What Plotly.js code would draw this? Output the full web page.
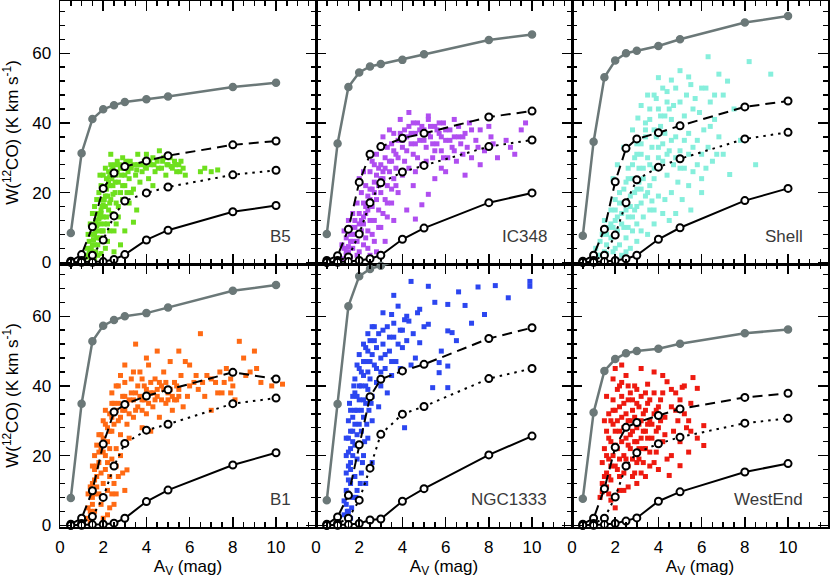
<!DOCTYPE html>
<html><head><meta charset="utf-8">
<script src="https://cdn.plot.ly/plotly-3.0.1.min.js"></script>
<style>html,body{margin:0;padding:0;background:#fff}</style>
</head><body><div id="chart" style="width:830px;height:581px"></div>
<script>
// ---------- data ----------
const PANEL_NAMES = ["B5", "IC348", "Shell", "B1", "NGC1333", "WestEnd"];
const AV_MODEL = [0.5, 1, 1.5, 2, 2.5, 3, 4, 5, 8, 10];
const X_TICKS = [0, 2, 4, 6, 8, 10];
const Y_TICKS = [0, 20, 40, 60];

// model curves (gray solid, black dashed, black dotted, black solid)
const B5_gray   = [8.4, 31.3, 41.1, 43.9, 45.1, 46.0, 46.8, 47.6, 50.3, 51.5];
const B5_dash   = [0.3, 2.2, 10.2, 21.2, 25.6, 27.5, 29.1, 30.6, 33.7, 34.8];
const B5_dot    = [0, 0.5, 2.0, 6.4, 13.3, 17.6, 19.9, 21.6, 25.1, 26.4];
const B5_solid  = [0, 0, 0, 0.2, 0.8, 2.2, 6.4, 9.2, 14.5, 16.3];

const IC348_gray  = [8.1, 34.1, 50.3, 54.5, 56.2, 56.9, 58.1, 59.7, 63.8, 65.4];
const IC348_dash  = [0.5, 1.9, 9.5, 23.0, 31.0, 33.2, 35.6, 37.0, 41.7, 43.4];
const IC348_dot   = [0, 0.5, 1.5, 8.1, 17.1, 22.8, 25.9, 27.8, 33.2, 35.1];
const IC348_solid = [0, 0, 0.2, 0.5, 1.0, 2.0, 6.6, 9.8, 17.1, 19.9];

const Shell_gray  = [7.6, 34.6, 53.1, 57.9, 60.0, 60.7, 62.1, 64.0, 68.8, 70.7];
const Shell_dash  = [0.3, 2.0, 9.5, 23.1, 32.7, 35.4, 37.2, 39.2, 44.6, 46.3];
const Shell_dot   = [0, 0.5, 2.0, 7.8, 17.1, 23.7, 27.3, 29.7, 35.4, 37.3];
const Shell_solid = [0, 0, 0.2, 0.5, 1.0, 2.0, 6.6, 9.9, 17.7, 21.2];

const B1_gray  = [7.8, 34.9, 52.8, 57.3, 58.9, 60.0, 60.9, 62.5, 67.3, 69.0];
const B1_dash  = [0.3, 2.0, 9.9, 23.3, 32.5, 34.7, 37.1, 38.9, 43.9, 42.0];
const B1_dot   = [0, 0.5, 2.5, 8.0, 17.0, 23.5, 27.3, 29.0, 34.9, 36.5];
const B1_solid = [0, 0, 0.2, 0.3, 0.6, 2.0, 6.8, 10.1, 17.3, 20.8];

const NGC1333_gray  = [7.2, 34.8, 62.9, 71.5, 73.6, 74.5, 76.5, 78.0, 82.0, 84.0];
const NGC1333_dash  = [0.3, 2.4, 8.6, 23.1, 36.9, 41.9, 44.3, 46.2, 53.6, 56.7];
const NGC1333_dot   = [0, 0.5, 2.0, 7.2, 16.4, 26.1, 31.9, 34.1, 42.1, 45.0];
const NGC1333_solid = [0, 0, 0.2, 0.5, 1.5, 1.8, 6.9, 10.5, 20.2, 25.6];

const WestEnd_gray  = [7.6, 32.4, 44.3, 47.7, 49.4, 50.0, 50.7, 52.1, 55.1, 56.2];
const WestEnd_dash  = [0.3, 2.0, 10.5, 22.4, 28.1, 29.5, 31.5, 33.4, 36.7, 37.9];
const WestEnd_dot   = [0, 0.5, 2.0, 8.1, 17.0, 20.8, 23.4, 25.3, 29.3, 30.7];
const WestEnd_solid = [0, 0, 0.2, 0.5, 1.2, 2.1, 6.9, 9.6, 15.3, 17.7];

// observed points [Av, W(12CO)]
const B5_pts = [[1.1,1],[1.2,2],[1.3,1.5],[1.25,4],[1.4,3],[1.5,2],[1.35,6],[1.45,8],[1.6,5],[1.55,10],[1.7,7],[1.65,12],[1.8,9],[1.5,14],[1.6,16],[1.75,14],[1.85,11],[1.9,15],[1.7,18],[1.8,20],[2.0,13],[1.95,18],[2.1,16],[1.9,22],[2.05,21],[2.2,19],[2.15,24],[2.3,22],[2.0,25],[2.25,26],[2.4,24],[2.35,28],[2.5,26],[2.1,27],[2.45,22],[2.6,25],[2.3,17],[2.55,20],[2.7,23],[2.2,11],[2.4,14],[2.6,17],[2.8,20],[2.5,9],[2.7,13],[2.9,18],[3.0,22],[2.8,27],[3.0,25],[3.1,28],[2.65,29],[2.9,30],[3.2,24],[3.3,27],[3.4,21],[3.5,25],[3.6,28],[3.7,23],[3.8,26],[3.9,29],[4.0,27],[4.1,24],[4.2,28],[4.3,30],[4.4,26],[4.5,29],[4.6,32],[4.7,27],[4.8,30],[4.9,25],[5.0,28],[5.1,30],[5.2,27],[5.3,29],[5.4,26],[5.5,28],[5.6,29],[5.8,25],[5.7,27],[6.5,26],[6.7,27],[7.0,26],[7.3,26.5],[3.4,11.5],[3.55,15],[3.2,17],[3.0,9],[2.8,5],[2.5,3],[1.9,2.5],[2.2,6],[1.6,1],[1.4,11],[1.3,8],[2.0,9],[2.1,4],[3.3,20],[4.0,31],[3.6,31],[4.3,22],[2.35,31],[1.85,25],
  [1.45,4],[1.55,6.5],[1.65,9],[1.75,11],[1.85,13],[1.95,16],[2.05,18],[2.15,21],[2.25,23],[2.35,25],[2.45,27],[1.6,8],[1.7,10.5],[1.8,12.5],[1.9,14],[2.0,16.5],[2.1,19],[2.2,22],[2.3,24.5],[2.4,26.5],[2.55,28],[1.5,5],[1.65,3],[1.75,5],[1.85,7],[1.95,9],[2.05,11],[2.15,13],[2.25,15],[2.35,18],[2.45,19.5],[2.55,23],[2.65,26],[2.75,28],[2.85,25],[2.95,27],[3.05,29],[3.15,26],[3.25,29],[3.45,28],[3.55,26.5],[3.75,28],[3.95,27.5],[4.15,29],[4.35,28],[4.55,27],[4.75,29],[4.95,28],[5.15,27.5],[5.35,28],[5.55,26],[2.0,6],[2.3,9],[2.6,11],[2.7,16],[2.9,22],[3.1,20],[1.35,2.5],[1.55,1.5],[1.75,2]];
const IC348_pts = [[1.0,0.5],[1.2,1],[1.4,2],[1.3,4],[1.5,3],[1.6,6],[1.4,7],[1.7,4],[1.8,8],[1.6,10],[1.9,6],[2.0,3],[2.1,9],[1.8,12],[2.0,14],[2.2,11],[2.3,7],[2.4,4],[2.5,2],[2.6,8],[2.3,14],[2.5,12],[2.2,17],[2.4,19],[2.6,16],[2.7,12],[2.8,18],[2.5,21],[2.7,23],[2.9,15],[3.0,20],[3.1,24],[2.9,27],[3.2,18],[3.3,22],[3.0,28],[3.4,26],[3.2,30],[3.5,29],[3.6,24],[3.7,31],[3.3,33],[3.8,35],[3.6,37],[4.0,33],[4.1,29],[4.2,36],[4.3,39],[4.4,34],[4.5,31],[4.6,37],[4.7,40],[4.8,35],[4.9,28],[5.0,38],[5.1,33],[5.2,41],[5.3,36],[5.4,30],[5.5,39],[5.6,34],[5.7,37],[5.8,32],[5.9,40],[6.0,35],[6.1,30],[6.2,38],[6.3,33],[6.4,36],[6.5,29],[6.6,39],[6.7,34],[6.8,31],[6.9,37],[7.0,33],[7.2,30],[7.4,35],[7.6,28],[7.8,32],[8.1,36],[8.4,30],[8.8,35],[9.2,31],[9.5,38],[9.7,40],[4.3,43],[5.2,42],[3.9,41],[4.9,16.5],[5.2,19.5],[4.5,22],[4.0,25],[3.8,20],[3.5,17],[5.5,24],[6.0,26],[3.0,10],[3.3,13],[3.6,12],[4.2,15],[2.0,24],[2.2,26],[2.6,29],[2.8,31],[3.1,36],[3.4,38],[2.1,20],[1.9,17],[1.7,14],[1.5,12],[1.3,9],[1.2,5],[2.8,3],[3.2,6],[4.6,26],[5.8,27],[7.1,40],[6.4,41],[7.6,38],[8.0,39],[6.9,25],[4.6,12.4],
  [1.5,4.5],[1.7,6],[1.9,8],[2.1,12],[2.3,16],[2.5,18],[2.7,20],[2.9,22],[3.1,26],[1.6,8],[1.8,10],[2.0,11],[2.2,13],[2.4,15],[2.6,21],[2.8,25],[3.0,24],[3.2,27],[3.4,29],[3.6,32],[3.8,30],[4.0,35],[4.2,32],[4.4,37],[4.6,34],[4.8,38],[5.0,35],[5.2,37],[5.4,34],[5.6,38],[5.8,36],[6.0,38],[6.2,35],[6.4,32],[6.6,36],[4.1,38],[4.5,40],[4.9,39],[5.3,39],[5.7,40],[3.5,34],[3.9,37],[3.7,27],[4.3,27],[4.7,30],[5.1,29],[5.5,32],[5.9,30],[1.4,3],[1.6,1.5],[1.9,2],[2.2,5],[2.4,9],[2.7,6],[2.9,10],[3.1,14],[3.3,17],[3.5,21],[3.7,22],[2.3,22],[2.5,26],[2.7,28],[6.8,36],[7.2,38],[7.5,33],[8.2,34],[9.0,33]];
const Shell_pts = [[1.0,1],[1.2,2],[1.1,4],[1.3,6],[1.5,3],[1.4,8],[1.6,5],[1.7,10],[1.5,12],[1.8,7],[1.9,3],[2.0,12],[1.8,15],[2.1,9],[2.2,5],[2.3,14],[2.0,18],[2.4,10],[2.5,7],[2.2,20],[2.4,17],[2.6,13],[2.7,4],[2.8,9],[2.5,23],[2.7,19],[2.9,15],[3.0,11],[2.6,27],[2.8,24],[3.0,21],[3.2,17],[3.3,13],[3.5,8],[2.9,30],[3.1,27],[3.3,24],[3.5,20],[3.6,15],[3.8,11],[3.0,34],[3.2,31],[3.4,36],[3.6,28],[3.8,24],[4.0,19],[4.2,14],[3.4,40],[3.6,44],[3.8,38],[4.0,33],[4.2,29],[4.4,25],[4.6,20],[3.5,48],[3.9,47],[4.1,42],[4.3,37],[4.5,32],[4.7,28],[4.9,23],[5.1,18],[4.2,50],[4.4,46],[4.6,41],[4.8,36],[5.0,32],[5.2,27],[5.4,22],[4.8,50],[5.0,46],[5.2,42],[5.4,37],[5.6,33],[5.8,28],[6.0,24],[5.5,51],[5.7,47],[5.9,43],[6.1,38],[6.3,33],[6.5,29],[6.2,50],[6.4,46],[6.6,41],[6.8,36],[7.0,31],[7.3,25.2],[6.3,59],[7.0,48],[7.5,44],[8.2,57.6],[9.2,54],[8.5,28],[7.8,35],[5.0,55],[3.2,45],[2.8,38],[2.4,33],[2.1,28],[1.9,24],[6.0,20],[5.5,15],[4.5,12],[3.0,6],[2.3,2],[4.0,53],[7.2,52],[6.8,54],[4.6,52.3],[5.4,53.2],[3.05,41.4],[3.7,17.6],
  [1.6,8],[1.8,11],[2.0,15],[2.2,17],[2.4,21],[2.6,24],[2.8,28],[3.0,31],[3.2,34],[3.4,38],[3.6,41],[1.9,10],[2.1,13],[2.3,11],[2.5,15],[2.7,16],[2.9,20],[3.1,23],[3.3,27],[3.5,30],[3.7,33],[3.9,36],[4.1,39],[4.3,42],[4.5,44],[2.6,10],[2.8,13],[3.0,16],[3.2,21],[3.4,19],[3.6,22],[3.8,27],[4.0,30],[4.2,34],[4.4,31],[4.6,35],[4.8,30],[5.0,27],[5.2,35],[5.4,31],[5.6,26],[5.8,35],[6.0,31],[6.2,27],[6.4,39],[6.7,31],[4.0,44],[3.8,48],[4.4,49],[4.7,45],[5.3,48],[5.6,44],[6.0,50],[6.6,48],[1.3,2],[1.6,2.5],[2.0,4],[2.5,3],[3.2,9],[3.8,15],[4.3,18],[4.8,14]];
const B1_pts = [[1.2,2],[1.3,5],[1.4,1],[1.5,8],[1.4,11],[1.6,4],[1.7,14],[1.5,17],[1.8,9],[1.6,20],[1.9,6],[2.0,12],[1.8,18],[1.7,23],[2.1,16],[1.9,26],[2.2,10],[2.0,21],[2.3,14],[2.1,29],[2.4,19],[2.2,24],[2.5,12],[2.6,17],[2.3,32],[2.4,27],[2.5,35],[2.6,22],[2.7,30],[2.8,26],[2.9,37],[3.0,33],[2.7,40],[3.1,29],[3.2,36],[3.3,42],[3.4,31],[3.5,38],[3.6,34],[3.7,44],[3.8,36],[3.9,40],[4.0,32],[4.1,46],[4.2,38],[4.3,34],[4.4,42],[4.5,37],[4.6,31],[4.7,40],[4.8,44],[4.9,35],[5.0,38],[5.1,47],[5.2,33],[5.3,41],[5.4,36],[5.5,39],[5.6,43],[5.7,34],[5.9,37],[6.2,41],[6.5,55],[6.4,39],[6.8,43],[7.0,33],[7.2,41],[7.5,38],[7.7,45],[8.0,40],[8.3,52.8],[8.5,48],[8.8,44],[9.0,50],[9.3,41],[9.8,40],[10.3,40.5],[3.5,52],[4.0,48],[4.5,50],[5.5,50],[6.0,46],[3.0,46],[2.8,20],[2.5,6],[2.2,3],[2.9,15],[3.0,10],[2.6,9],[2.0,2],[1.6,13],[1.3,9],[2.4,38],[3.2,25],[3.8,28],[4.2,27],[5.8,47],[6.7,37],[7.4,44],[7.9,42],[8.1,36],[3.1,15.9],
  [1.4,4],[1.5,12],[1.6,9],[1.7,17],[1.8,21],[1.9,15],[2.0,25],[2.1,20],[2.2,28],[2.3,22],[2.4,31],[2.5,29],[1.5,6],[1.6,16],[1.7,11],[1.8,26],[1.9,22],[2.0,30],[2.1,33],[2.2,18],[2.3,27],[2.4,35],[2.6,33],[2.7,35],[2.8,31],[2.9,33],[3.0,37],[3.1,35],[3.2,32],[3.3,38],[3.4,36],[3.5,33],[3.6,40],[3.7,37],[3.8,33],[3.9,36],[4.0,39],[4.1,35],[4.2,41],[4.3,38],[4.4,36],[4.5,39],[4.6,41],[4.7,36],[4.8,39],[4.9,41],[5.0,36],[5.1,39],[5.2,37],[5.3,36],[5.4,40],[5.5,37],[2.6,40],[2.8,43],[3.0,41],[3.4,44],[3.8,42],[2.4,9],[2.7,14],[2.3,5],[6.0,40],[6.3,43],[6.6,41],[7.0,42],[7.3,38],[7.6,41],[7.9,38],[8.6,43],[9.1,45]];
const NGC1333_pts = [[1.3,3],[1.4,6],[1.5,4],[1.5,9],[1.6,12],[1.4,15],[1.7,8],[1.6,18],[1.8,14],[1.5,21],[1.7,24],[1.9,19],[1.6,27],[1.8,29],[2.0,23],[1.9,33],[2.1,27],[1.7,31],[2.0,36],[2.2,31],[1.8,38],[2.1,40],[2.3,35],[2.2,43],[2.4,39],[2.0,45],[2.3,47],[2.5,42],[2.6,37],[2.4,50],[2.7,46],[2.8,41],[2.5,53],[2.8,51],[3.0,48],[2.9,55],[3.1,52],[3.2,45],[3.3,57],[3.4,50],[3.5,60.5],[3.6,54],[3.8,62.9],[3.7,47],[3.9,56],[4.0,51],[4.1,59],[4.2,53],[4.3,58.6],[4.4,70],[4.5,55],[4.7,61],[4.8,52.4],[5.0,57],[5.2,57.7],[5.2,68.6],[5.5,64],[5.7,46.7],[5.7,43.8],[5.4,39.5],[6.1,39.5],[6.1,45.7],[6.1,55.8],[6.3,55.3],[6.1,63.4],[6.6,67],[6.9,63.1],[7.5,68.4],[7.8,60.5],[8.3,68.8],[8.9,65.3],[9.9,68.6],[9.9,70],[4.1,28],[2.6,30],[2.2,20],[2.4,25],[2.9,34],[3.0,40],[1.9,10],[2.1,15],[1.6,2],[2.3,12],[3.3,38],[3.5,43],[2.7,57],[3.1,61],[3.6,66],[4.6,48],[5.8,50],[6.5,53],[7.2,58],[1.5,30],[1.4,25],[2.6,18],[4.8,62],
  [1.4,10],[1.5,13],[1.6,16],[1.7,20],[1.8,23],[1.9,26],[2.0,29],[2.1,33],[2.2,36],[2.3,40],[2.4,44],[2.5,47],[1.5,17],[1.6,22],[1.7,27],[1.8,33],[1.9,37],[2.0,40],[2.1,44],[2.2,47],[2.3,51],[2.6,49],[1.4,20],[1.5,25],[1.6,33],[1.7,37],[1.8,42],[1.9,46],[2.0,49],[2.2,52],[2.4,55],[2.6,57],[2.8,45],[3.0,44],[3.2,49],[3.4,54],[3.6,58],[3.8,52],[4.0,56],[4.2,60],[1.3,7],[1.45,4],[1.65,5],[1.85,8],[2.05,12],[2.15,18],[2.25,24],[2.35,29],[2.45,33],[2.55,35],[1.55,35],[1.75,40],[2.7,53],[3.1,56],[3.5,47],[3.9,45],[4.4,46]];
const WestEnd_pts = [[1.3,8],[1.4,12],[1.4,18],[1.5,10],[1.5,22],[1.6,15],[1.6,27],[1.7,19],[1.7,32],[1.8,24],[1.8,13],[1.9,29],[1.9,36],[2.0,17],[2.0,33],[2.1,22],[2.1,39],[2.2,27],[2.2,14],[2.3,31],[2.3,41],[2.4,20],[2.4,35],[2.5,25],[2.5,43],[2.6,30],[2.6,17],[2.7,38],[2.7,22],[2.8,33],[2.8,27],[2.9,40],[2.9,15],[3.0,35],[3.0,24],[3.1,29],[3.1,19],[3.2,37],[3.3,32],[3.3,22],[3.4,27],[3.5,40.5],[3.5,35],[3.6,30],[3.6,17],[3.7,25],[3.8,38],[3.9,33],[3.9,21],[4.0,28],[4.1,36],[4.2,24],[4.3,31],[4.4,41.2],[4.4,19],[4.5,14.3],[4.6,34],[4.7,27],[4.8,38],[4.9,30],[5.0,17.1],[5.0,24],[5.1,39.6],[5.2,32],[5.3,28],[5.4,21],[5.6,42.4],[5.5,35],[5.8,39.3],[6.1,28.6],[6.1,22.9],[1.4,9.6],[1.8,7.2],[2.0,5],[2.4,10],[3.0,12],[3.4,14],[2.0,45],[2.3,46],[1.6,37],[1.5,30],[1.9,42],[3.8,44],[4.2,43],[3.2,45],[2.6,11],
  [1.5,14],[1.6,20],[1.7,25],[1.8,30],[1.9,33],[2.0,27],[2.1,30],[2.2,34],[2.3,37],[2.4,28],[2.5,32],[2.6,36],[2.7,30],[2.8,36],[2.9,31],[3.0,28],[3.1,34],[3.2,30],[3.3,27],[3.4,33],[3.5,29],[3.6,36],[1.6,11],[1.7,14],[1.8,17],[1.9,20],[2.0,23],[2.1,16],[2.2,19],[2.3,24],[2.4,15],[2.5,19],[2.6,23],[2.7,26],[2.8,19],[2.9,24],[3.0,18],[3.1,22],[3.2,25],[3.3,18],[3.4,22],[3.5,25],[3.6,21],[3.7,29],[3.8,32],[3.9,27],[4.0,34],[4.1,30],[4.2,38],[4.3,26],[4.6,39],[4.8,33],[5.0,36],[5.2,40],[5.4,30],[2.2,40],[2.6,40],[3.0,39],[3.4,38],[1.7,9],[2.2,10],[2.8,14],[3.2,15],[3.8,18],[4.0,16],[4.6,20],[5.5,27],[5.8,25]];

const POINT_COLORS = ["#6ee01e", "#b04ef0", "#86efdc", "#ff6a14", "#2c46f0", "#ee1a10"];

// ---------- build ----------
const panels = [
  {pts: B5_pts, curves: [B5_gray, B5_dash, B5_dot, B5_solid]},
  {pts: IC348_pts, curves: [IC348_gray, IC348_dash, IC348_dot, IC348_solid]},
  {pts: Shell_pts, curves: [Shell_gray, Shell_dash, Shell_dot, Shell_solid]},
  {pts: B1_pts, curves: [B1_gray, B1_dash, B1_dot, B1_solid]},
  {pts: NGC1333_pts, curves: [NGC1333_gray, NGC1333_dash, NGC1333_dot, NGC1333_solid]},
  {pts: WestEnd_pts, curves: [WestEnd_gray, WestEnd_dash, WestEnd_dot, WestEnd_solid]}
];

const GRAY = "#6b7878";
const curveStyles = [
  {line: {color: GRAY, width: 2.5, dash: "solid"}, marker: {color: GRAY, line: {color: GRAY, width: 1.5}}},
  {line: {color: "black", width: 2, dash: "10px,6px"}, marker: {color: "white", line: {color: "black", width: 2}}},
  {line: {color: "black", width: 2, dash: "2.5px,5px"}, marker: {color: "white", line: {color: "black", width: 2}}},
  {line: {color: "black", width: 2, dash: "solid"}, marker: {color: "white", line: {color: "black", width: 2}}}
];

const FONT = "Liberation Sans, Arial, Helvetica, sans-serif";
const traces = [];
const layout = {
  width: 830, height: 581,
  margin: {l: 60, r: 2, t: 1, b: 54},
  paper_bgcolor: "white", plot_bgcolor: "white",
  showlegend: false,
  font: {family: FONT, size: 17, color: "black"},
  annotations: []
};

panels.forEach((p, i) => {
  const n = i + 1;
  const xid = n === 1 ? "x" : "x" + n;
  const yid = n === 1 ? "y" : "y" + n;
  const row = i < 3 ? 0 : 1;
  const col = i % 3;
  traces.push({
    type: "scatter", mode: "markers", xaxis: xid, yaxis: yid,
    x: p.pts.map(d => d[0]), y: p.pts.map(d => d[1]),
    marker: {symbol: "square", size: 5, color: POINT_COLORS[i]},
    hoverinfo: "skip"
  });
  p.curves.forEach((c, k) => {
    const st = curveStyles[k];
    traces.push({
      type: "scatter", mode: "lines+markers", xaxis: xid, yaxis: yid,
      x: AV_MODEL, y: c, cliponaxis: false,
      line: st.line,
      marker: {symbol: "circle", size: 7, color: st.marker.color, line: st.marker.line}
    });
  });
  const common = {
    showline: true, linecolor: "black", linewidth: 1.5, mirror: "allticks",
    ticks: "inside", ticklen: 10, tickwidth: 1.5, tickcolor: "black",
    showgrid: false, zeroline: false, fixedrange: true,
    tickfont: {family: FONT, size: 17, color: "black"}
  };
  layout[n === 1 ? "xaxis" : "xaxis" + n] = Object.assign({}, common, {
    domain: [col / 3, (col + 1) / 3], anchor: yid, range: [0, 11.85],
    tickmode: "array", tickvals: X_TICKS, ticktext: X_TICKS.map(String),
    showticklabels: row === 1, ticklabelstandoff: 4,
    minor: {ticks: "inside", ticklen: 5, tickwidth: 1.5, tickcolor: "black", dtick: 0.5, tick0: 0, showgrid: false},
    title: row === 1 ? {text: "A<sub>V</sub> (mag)", font: {family: FONT, size: 17}, standoff: 2} : {text: ""}
  });
  layout[n === 1 ? "yaxis" : "yaxis" + n] = Object.assign({}, common, {
    domain: row === 0 ? [0.5, 1] : [0, 0.5], anchor: xid, range: [-0.5, 75],
    tickmode: "array", tickvals: Y_TICKS, ticktext: Y_TICKS.map(String),
    showticklabels: col === 0, ticklabelstandoff: 4,
    minor: {ticks: "inside", ticklen: 5, tickwidth: 1.5, tickcolor: "black", dtick: 4, tick0: 0, showgrid: false},
    title: col === 0 ? {text: "W(<sup>12</sup>CO) (K km s<sup>-1</sup>)", font: {family: FONT, size: 17}, standoff: 10} : {text: ""}
  });
  layout.annotations.push({
    xref: xid + " domain", yref: yid + " domain", x: 0.91, y: 0.105,
    xanchor: "right", yanchor: "middle", showarrow: false,
    text: PANEL_NAMES[i], font: {family: FONT, size: 17, color: "#3a3a3a"}
  });
});

Plotly.newPlot("chart", traces, layout, {displayModeBar: false, staticPlot: true});
</script></body></html>
